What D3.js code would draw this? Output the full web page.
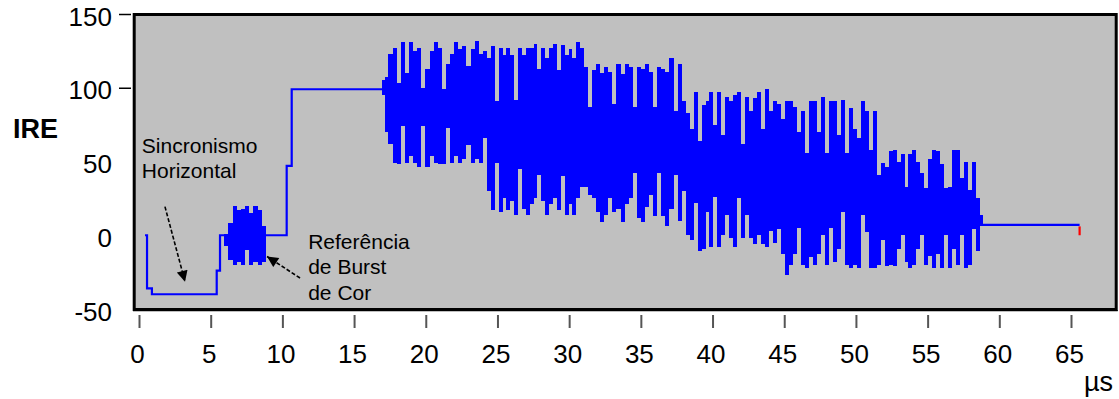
<!DOCTYPE html>
<html>
<head>
<meta charset="utf-8">
<script src="https://cdn.jsdelivr.net/npm/d3@7"></script>
<style>
  html, body { margin: 0; padding: 0; background: #fff; }
  svg { display: block; }
  text { font-family: "Liberation Sans", Arial, sans-serif; }
</style>
</head>
<body>
<div id="chart"></div>
<script>
// ticks
const xTicks = [0, 5, 10, 15, 20, 25, 30, 35, 40, 45, 50, 55, 60, 65];
const yTicks = [-50, 0, 50, 100, 150];
const yTicksMarked = [100, 150];

// step parts of the line, [µs, IRE]
const syncTrace = [[0.42, 0], [0.56, 0], [0.56, -36], [0.9, -36], [0.9, -40], [5.42, -40],
  [5.42, -24], [5.65, -24], [5.65, 0], [5.95, 0]];
const porchTrace = [[8.85, 0], [10.3, 0], [10.3, 47], [10.65, 47], [10.65, 99], [16.95, 99]];
const tailTrace = [[58.85, 7], [65.6, 7]];
const endMark = [[65.6, 6], [65.6, 0]];

// colour burst envelope (µs span, top / bottom IRE per column)
const burstSpan = [5.95, 8.85];
const burstTop = [1, 8, 20, 17, 18, 20, 15, 20, 17, 6];
const burstBottom = [-7, -17, -20, -18, -20, -10, -20, -18, -20, -18];

// colour bars envelope
const barSpans = [[16.95, 17.4], [17.4, 24.27], [24.27, 31.31], [31.31, 37.85], [37.85, 44.77],
  [44.77, 51.46], [51.46, 58.63], [58.63, 58.87]];
const barTops = [
  [105, 107],
  [123, 127, 103, 131, 110, 131, 125, 127, 100, 113, 125, 131, 127, 99, 116, 123, 131, 126, 128, 115, 126, 132, 123, 125],
  [120, 128, 91, 127, 122, 127, 122, 92, 127, 122, 127, 127, 130, 113, 127, 120, 127, 130, 112, 129, 122, 126, 120, 131, 127, 114],
  [87, 112, 116, 110, 114, 111, 89, 116, 109, 116, 114, 87, 114, 113, 116, 111, 87, 114, 113, 111, 120, 84, 116],
  [91, 83, 72, 97, 64, 88, 91, 97, 75, 97, 68, 94, 91, 95, 97, 62, 94, 84, 93, 97, 72, 99, 84, 91, 89],
  [79, 91, 91, 87, 70, 84, 56, 91, 91, 70, 94, 56, 91, 91, 68, 92, 56, 86, 72, 66, 91, 84, 58, 84],
  [41, 49, 46, 57, 58, 50, 55, 33, 55, 58, 50, 42, 32, 52, 58, 57, 48, 32, 33, 58, 58, 39, 50, 31, 50, 25],
  [14]
];
const barBottoms = [
  [95, 70],
  [62, 49, 48, 74, 49, 54, 49, 46, 74, 46, 54, 49, 48, 48, 73, 49, 54, 49, 52, 61, 49, 52, 49, 66],
  [30, 17, 49, 16, 25, 17, 23, 14, 45, 18, 14, 21, 25, 41, 23, 14, 21, 25, 17, 40, 14, 21, 14, 25, 33, 33],
  [27, 25, 16, 9, 14, 25, 16, 18, 9, 21, 25, 42, 12, 9, 19, 27, 13, 42, 13, 6, 18, 41, 10],
  [30, 0, -3, 22, -11, -9, 16, -8, 26, -8, 0, 14, -2, -8, 25, -2, 14, -2, -6, 0, -6, -8, 3, -5, 4],
  [-13, -27, -20, -13, 5, -20, -22, -15, -20, -13, 0, -20, 5, -18, -9, 16, -20, -22, -20, -22, 14, 2, -22, -22],
  [-20, -3, -21, -20, -21, -9, 0, -18, -22, -20, -9, 0, -20, -14, -22, -13, -22, 0, -22, -9, -20, 0, -22, -20, 4, -11],
  [6]
];

// annotations, anchored in data units
const labelSync = { t: 0.2, v: 56, lines: ["Sincronismo", "Horizontal"] };
const labelBurst = { t: 11.8, v: -9, lines: ["Referência", "de Burst", "de Cor"] };
const arrowSync = [[1.81, 19.4], [3.21, -31.5]];
const arrowBurst = [[11.23, -29], [8.93, -14.4]];

const width = 1119, height = 399;
const svg = d3.select("#chart").append("svg")
  .attr("width", width)
  .attr("height", height);

const x = d3.scaleLinear().domain([0, 65]).range([139, 1071]);
const y = d3.scaleLinear().domain([-50, 150]).range([309, 14]);

// plot frame
svg.append("rect")
  .attr("x", 134.2).attr("y", 14.5)
  .attr("width", 982).attr("height", 295)
  .attr("fill", "#c0c0c0")
  .attr("stroke", "#000")
  .attr("stroke-width", 3);
svg.append("line")
  .attr("x1", 133).attr("x2", 1117.7)
  .attr("y1", 310.6).attr("y2", 310.6)
  .attr("stroke", "#000").attr("stroke-width", 1.2);

// y axis
const yAxis = svg.append("g")
  .attr("transform", "translate(131,0)")
  .call(d3.axisLeft(y).tickValues(yTicks).tickSize(12).tickPadding(7).tickFormat(d => String(d)));
yAxis.select(".domain").remove();
yAxis.selectAll(".tick line")
  .attr("stroke", "#000").attr("stroke-width", 1.5)
  .attr("display", d => yTicksMarked.includes(d) ? null : "none");
yAxis.selectAll(".tick text")
  .attr("font-size", 26)
  .attr("font-family", "Liberation Sans, Arial, sans-serif")
  .attr("fill", "#000")
  .attr("dy", "0.43em");

// x axis
const xAxis = svg.append("g")
  .attr("transform", "translate(0,315)")
  .call(d3.axisBottom(x).tickValues(xTicks).tickSize(13).tickPadding(0));
xAxis.select(".domain").remove();
xAxis.selectAll(".tick line")
  .attr("stroke", "#555").attr("stroke-width", 2);
xAxis.selectAll(".tick text")
  .attr("font-size", 26)
  .attr("font-family", "Liberation Sans, Arial, sans-serif")
  .attr("fill", "#000")
  .attr("x", -2)
  .attr("y", 48)
  .attr("dy", 0);

svg.append("text")
  .attr("x", 1113).attr("y", 391)
  .attr("text-anchor", "end")
  .attr("font-size", 27)
  .text("µs");

svg.append("text")
  .attr("x", 13).attr("y", 138)
  .attr("font-size", 27)
  .attr("font-weight", "bold")
  .text("IRE");

// signal
const blue = "#0000ff";
const line = d3.line().x(d => x(d[0])).y(d => y(d[1]));
const area = d3.area()
  .x(d => x(d.t))
  .y0(d => y(d.lo))
  .y1(d => y(d.hi))
  .curve(d3.curveStepAfter);

function envelope(span, tops, bottoms) {
  const dt = (span[1] - span[0]) / tops.length;
  return tops.map((v, i) => ({ t: span[0] + i * dt, hi: v, lo: bottoms[i] }));
}
function closeEnv(pts, tEnd) {
  const last = pts[pts.length - 1];
  return pts.concat([{ t: tEnd, hi: last.hi, lo: last.lo }]);
}

[syncTrace, porchTrace, tailTrace].forEach(tr => {
  svg.append("path")
    .attr("d", line(tr))
    .attr("fill", "none")
    .attr("stroke", blue)
    .attr("stroke-width", 2.2);
});

svg.append("path")
  .attr("d", area(closeEnv(envelope(burstSpan, burstTop, burstBottom), burstSpan[1])))
  .attr("fill", blue)
  .attr("shape-rendering", "crispEdges");

// all bars as one continuous envelope
const barPts = barSpans.flatMap((span, i) => envelope(span, barTops[i], barBottoms[i]));
svg.append("path")
  .attr("d", area(closeEnv(barPts, barSpans[barSpans.length - 1][1])))
  .attr("fill", blue)
  .attr("shape-rendering", "crispEdges");

svg.append("path")
  .attr("d", line(endMark))
  .attr("stroke", "#ff0000")
  .attr("stroke-width", 2.2);

// annotations
svg.append("defs").append("marker")
  .attr("id", "head")
  .attr("viewBox", "0 0 10 10")
  .attr("refX", 10).attr("refY", 5)
  .attr("markerWidth", 13).attr("markerHeight", 11)
  .attr("markerUnits", "userSpaceOnUse")
  .attr("orient", "auto")
  .append("path")
  .attr("d", "M0,0 L10,5 L0,10 z")
  .attr("fill", "#000");

[arrowSync, arrowBurst].forEach(a => {
  svg.append("path")
    .attr("d", line(a))
    .attr("fill", "none")
    .attr("stroke", "#000")
    .attr("stroke-width", 1.6)
    .attr("stroke-dasharray", "4,2")
    .attr("marker-end", "url(#head)");
});

[labelSync, labelBurst].forEach(lab => {
  const t = svg.append("text")
    .attr("x", x(lab.t))
    .attr("y", y(lab.v))
    .attr("font-size", 21)
    .attr("fill", "#000");
  lab.lines.forEach((s, i) => {
    t.append("tspan")
      .attr("x", x(lab.t))
      .attr("dy", i === 0 ? 0 : 25.5)
      .text(s);
  });
});
</script>
</body>
</html>
